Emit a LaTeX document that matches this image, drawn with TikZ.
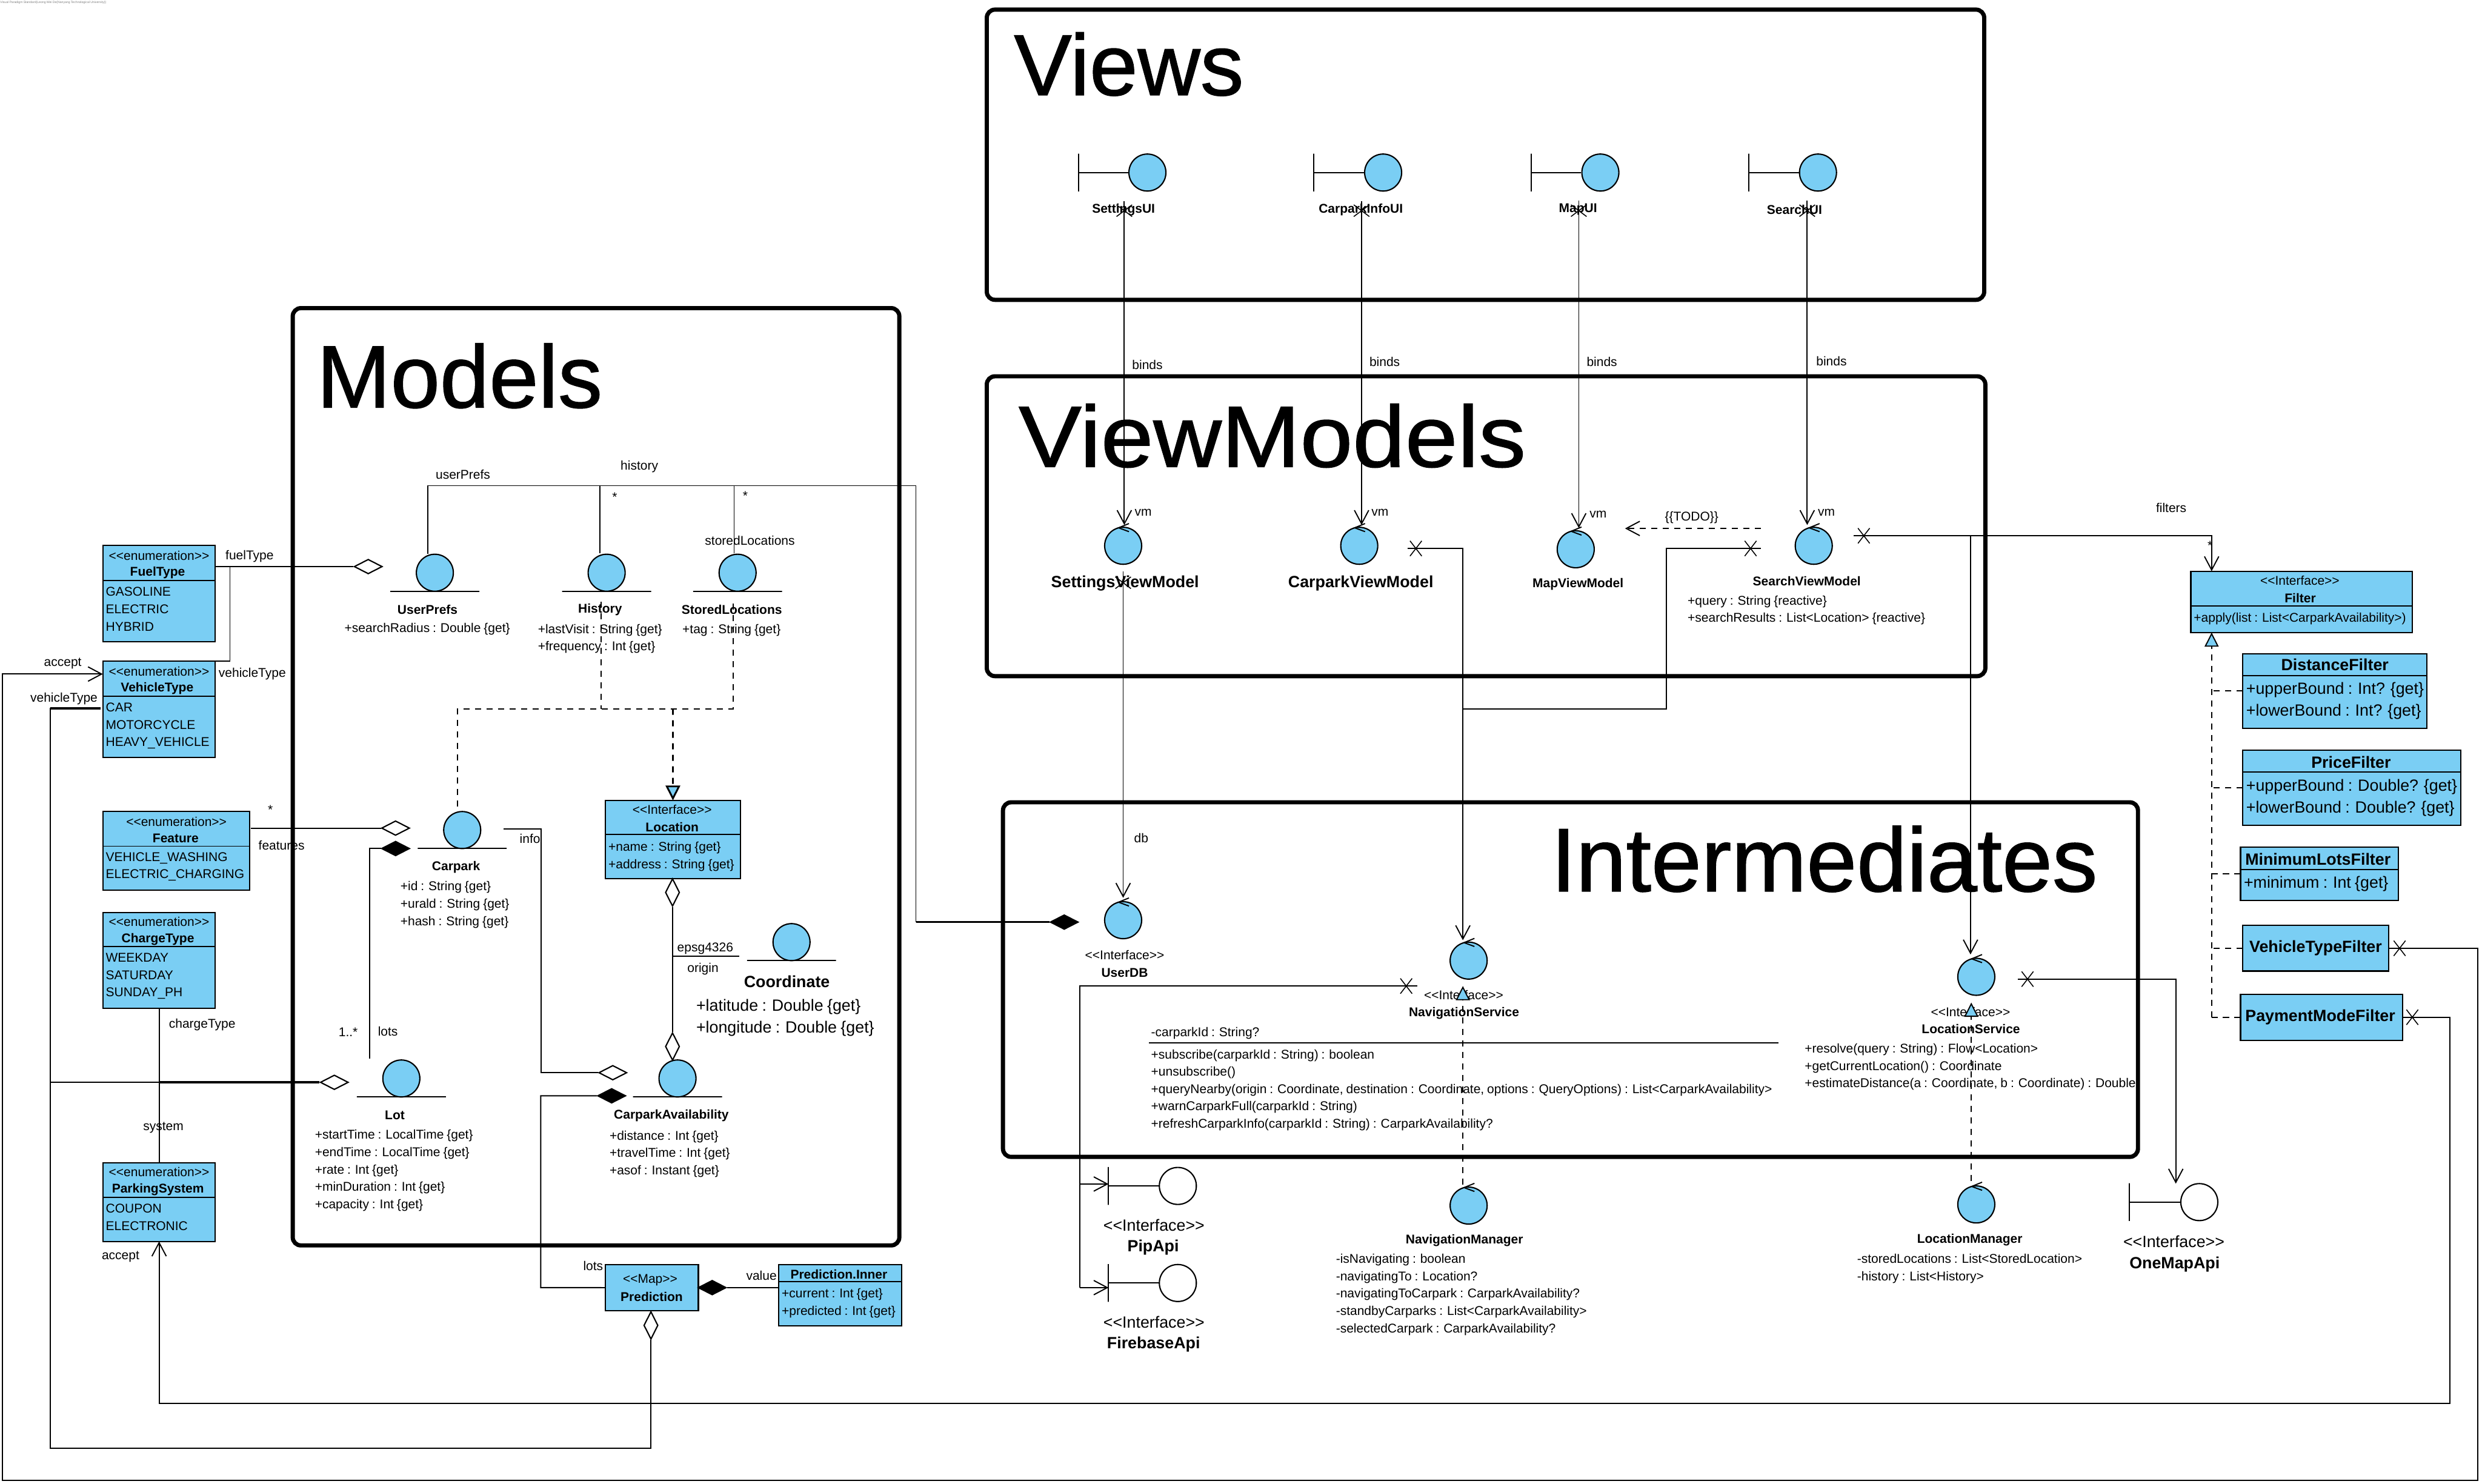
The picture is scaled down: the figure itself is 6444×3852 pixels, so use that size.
\documentclass[tikz,border=0pt]{standalone}
\usepackage{fontspec}
\setmainfont{Liberation Sans}[Ligatures=TeXOff, WordSpace=0.85]
\newfontfamily\titlefont{Liberation Sans}[Ligatures=TeXOff, FakeBold=1.0]
\usepackage{graphicx}
\usepackage{xcolor}
\usetikzlibrary{arrows.meta, shapes.geometric, shapes.misc}
\definecolor{umlblue}{RGB}{122,206,244}
\newcommand{\ctlmark}[1]{\draw[conn] ([shift={(15,-8)}]#1.north) -- ([shift={(-12,3)}]#1.north) -- ([shift={(15,13)}]#1.north);}

\begin{document}
\begin{tikzpicture}[
  x=0.01cm, y=-0.01cm,
  pkgframe/.style={
    rectangle, rounded corners=6pt, anchor=north west, draw, line width=3.1pt,
    inner sep=0pt, outer sep=0pt
  },
  pkgtitle/.style={anchor=base west, inner sep=0pt},
  classbox/.style={
    rectangle, anchor=north west, draw, fill=umlblue, line width=0.95pt,
    inner sep=0pt, outer sep=0pt
  },
  blob/.style={
    ellipse, draw, fill=umlblue, line width=0.95pt, inner sep=0pt,
    minimum width=0.96cm, minimum height=0.96cm
  },
  lolly/.style={
    ellipse, draw, fill=white, line width=0.95pt, inner sep=0pt,
    minimum width=0.96cm, minimum height=0.96cm
  },
  underbar/.style={
    rectangle, draw, line width=0.85pt, inner sep=0pt,
    minimum width=2.31cm, minimum height=0pt
  },
  sidebar/.style={
    rectangle, draw, line width=0.85pt, inner sep=0pt,
    minimum width=0pt, minimum height=0.98cm
  },
  lbl/.style={inner sep=0pt, font=\fontsize{9.39pt}{12.8pt}\selectfont},
  lblbf/.style={lbl, font=\fontsize{9.39pt}{12.8pt}\selectfont\bfseries},
  big/.style={inner sep=0pt, font=\fontsize{12pt}{16.2pt}\selectfont},
  bigbf/.style={inner sep=0pt, font=\fontsize{12pt}{16.2pt}\selectfont\bfseries},
  attr/.style={anchor=north west, align=left, inner sep=0pt, font=\fontsize{9.39pt}{12.8pt}\selectfont},
  attrbig/.style={anchor=north west, align=left, inner sep=0pt, font=\fontsize{12pt}{16.2pt}\selectfont},
  odia/.style={diamond, draw, fill=white, line width=0.95pt, inner sep=0pt, minimum width=0.73cm, minimum height=0.38cm},
  fdia/.style={diamond, draw, fill=black, line width=0.95pt, inner sep=0pt, minimum width=0.73cm, minimum height=0.38cm},
  odiav/.style={diamond, draw, fill=white, line width=0.95pt, inner sep=0pt, minimum width=0.37cm, minimum height=0.72cm},
  xmarkh/.style={cross out, draw, line width=0.7pt, inner sep=0pt, minimum width=0.28cm, minimum height=0.37cm},
  xmarkv/.style={cross out, draw, line width=0.7pt, inner sep=0pt, minimum width=0.38cm, minimum height=0.28cm},
  conn/.style={line width=0.85pt},
  heavy/.style={line width=1.6pt},
  arr/.style={-{Straight Barb[length=10pt, width=10.6pt]}, line width=0.85pt},
  dep/.style={line width=0.85pt, dash pattern=on 4.5pt off 4pt},
  depheavy/.style={line width=1.3pt, dash pattern=on 4.5pt off 4pt},
  real/.style={dep, -{Triangle[length=10.5pt, width=10.4pt, fill=umlblue]}},
  realheavy/.style={depheavy, -{Triangle[length=11pt, width=10.8pt, fill=umlblue]}},
  deparr/.style={dep, -{Straight Barb[length=10pt, width=10.6pt]}}
]
  \useasboundingbox (0,0) rectangle (6444,3852);
  \node[anchor=west, inner sep=0pt, text=gray, font=\fontsize{2.3pt}{3pt}\selectfont] (watermark) at (0,7)
    {Visual Paradigm Standard(Leong Wei De(Nanyang Technological University))};

  % Package frames
  \node[pkgframe, minimum width=25.88cm, minimum height=7.53cm] (viewsframe) at (2562,25) {};
  \node[pkgframe, minimum width=25.91cm, minimum height=7.78cm] (vmframe) at (2562,977) {};
  \node[pkgframe, minimum width=15.74cm, minimum height=24.32cm] (modelsframe) at (760,800) {};
  \node[pkgframe, minimum width=29.45cm, minimum height=9.20cm] (interframe) at (2604,2083) {};
  \node[pkgtitle, font=\fontsize{64pt}{70pt}\titlefont] (viewstitle) at (2632,247) {Views};
  \node[pkgtitle, font=\fontsize{64.3pt}{70pt}\titlefont] (vmtitle) at (2644,1212) {\scalebox{1.084}[1]{ViewModels}};
  \node[pkgtitle, font=\fontsize{65.4pt}{70pt}\titlefont] (modelstitle) at (822,1058) {Models};
  \node[pkgtitle, font=\fontsize{66.6pt}{70pt}\titlefont] (intertitle) at (4026,2314) {Intermediates};

  % Views
  \node[blob] (settingsui) at (2979,448) {};
  \node[blob] (carparkui) at (3591,448) {};
  \node[blob] (mapui) at (4155,448) {};
  \node[blob] (searchui) at (4720,448) {};
  \node[sidebar] (settingsbar) at (2800,448) {};
  \node[sidebar] (carparkbar) at (3411,448) {};
  \node[sidebar] (mapbar) at (3975,448) {};
  \node[sidebar] (searchbar) at (4540,448) {};
  \draw[conn] (settingsbar.center) -- (settingsui.west);
  \draw[conn] (carparkbar.center) -- (carparkui.west);
  \draw[conn] (mapbar.center) -- (mapui.west);
  \draw[conn] (searchbar.center) -- (searchui.west);
  \node[lblbf] (settingsuinm) at (2917,544) {SettingsUI};
  \node[lblbf] (carparkuinm) at (3533,544) {CarparkInfoUI};
  \node[lblbf] (mapuinm) at (4097,544) {MapUI};
  \node[lblbf] (searchuinm) at (4659,544) {SearchUI};

  % ViewModels
  \node[blob] (settingsvm) at (2916,1417) {};
  \node[blob] (carparkvm) at (3529,1417) {};
  \node[blob] (mapvm) at (4091,1426) {};
  \node[blob] (searchvm) at (4709,1417) {};
  \node[bigbf] (settingsvmnm) at (2921,1514) {SettingsViewModel};
  \node[bigbf] (carparkvmnm) at (3533,1514) {CarparkViewModel};
  \node[lblbf] (mapvmnm) at (4097,1517) {MapViewModel};
  \node[lblbf] (searchvmnm) at (4691,1508) {SearchViewModel};
  \node[attr] (searchvmat) at (4381,1546) {+query : String \{reactive\}\\+searchResults : List<Location> \{reactive\}};

  % Enumerations on the left
  \node[classbox, minimum width=2.92cm, minimum height=2.50cm] (fuel) at (267,1416) {};
  \draw[conn] (fuel.west |- 0,1507) -- (fuel.east |- 0,1507);
  \node[lbl] (fuelst) at (413,1442) {<<enumeration>>};
  \node[lblbf] (fuelnm) at (409,1487) {FuelType};
  \node[attr] (fuelit) at (274,1524) {GASOLINE\\ELECTRIC\\HYBRID};

  \node[classbox, minimum width=2.92cm, minimum height=2.50cm] (vehicle) at (267,1717) {};
  \draw[conn] (vehicle.west |- 0,1807) -- (vehicle.east |- 0,1807);
  \node[lbl] (vehiclest) at (413,1743) {<<enumeration>>};
  \node[lblbf] (vehiclenm) at (408,1788) {VehicleType};
  \node[attr] (vehicleit) at (274,1824) {CAR\\MOTORCYCLE\\HEAVY\_VEHICLE};

  \node[classbox, minimum width=3.81cm, minimum height=2.04cm] (feature) at (267,2107) {};
  \draw[conn] (feature.west |- 0,2197) -- (feature.east |- 0,2197);
  \node[lbl] (featurest) at (458,2133) {<<enumeration>>};
  \node[lblbf] (featurenm) at (456,2177) {Feature};
  \node[attr] (featureit) at (274,2212) {VEHICLE\_WASHING\\ELECTRIC\_CHARGING};

  \node[classbox, minimum width=2.92cm, minimum height=2.49cm] (charge) at (267,2369) {};
  \draw[conn] (charge.west |- 0,2458) -- (charge.east |- 0,2458);
  \node[lbl] (chargest) at (413,2393) {<<enumeration>>};
  \node[lblbf] (chargenm) at (410,2438) {ChargeType};
  \node[attr] (chargeit) at (274,2474) {WEEKDAY\\SATURDAY\\SUNDAY\_PH};

  \node[classbox, minimum width=2.92cm, minimum height=2.04cm] (parking) at (267,3019) {};
  \draw[conn] (parking.west |- 0,3109) -- (parking.east |- 0,3109);
  \node[lbl] (parkingst) at (413,3043) {<<enumeration>>};
  \node[lblbf] (parkingnm) at (410,3088) {ParkingSystem};
  \node[attr] (parkingit) at (274,3125) {COUPON\\ELECTRONIC};

  % Models
  \node[blob] (userprefs) at (1129,1487) {};
  \node[underbar] (userprefsbar) at (1129,1535) {};
  \node[lblbf] (userprefsnm) at (1110,1583) {UserPrefs};
  \node[attr] (userprefsat) at (894,1617) {+searchRadius : Double \{get\}};

  \node[blob] (history) at (1575,1487) {};
  \node[underbar] (historybar) at (1575,1535) {};
  \node[lblbf] (historynm) at (1558,1583) {History};
  \node[attr] (historyat) at (1396,1620) {+lastVisit : String \{get\}\\+frequency : Int \{get\}};

  \node[blob] (stored) at (1915,1487) {};
  \node[underbar] (storedbar) at (1915,1535) {};
  \node[lblbf] (storednm) at (1900,1583) {StoredLocations};
  \node[attr] (storedat) at (1771,1620) {+tag : String \{get\}};

  \node[blob] (carpark) at (1200,2155) {};
  \node[underbar] (carparkbarb) at (1200,2203) {};
  \node[lblbf] (carparknm) at (1184,2252) {Carpark};
  \node[attr] (carparkat) at (1039,2288) {+id : String \{get\}\\+urald : String \{get\}\\+hash : String \{get\}};

  \node[classbox, minimum width=3.50cm, minimum height=2.03cm] (location) at (1572,2078) {};
  \draw[conn] (location.west |- 0,2167) -- (location.east |- 0,2167);
  \node[lbl] (locationst) at (1745,2102) {<<Interface>>};
  \node[lblbf] (locationnm) at (1745,2147) {Location};
  \node[attr] (locationat) at (1579,2185) {+name : String \{get\}\\+address : String \{get\}};

  \node[blob] (coordinate) at (2055,2446) {};
  \node[underbar] (coordinatebar) at (2055,2494) {};
  \node[bigbf] (coordinatenm) at (2043,2549) {Coordinate};
  \node[attrbig] (coordinateat) at (1807,2594) {+latitude : Double \{get\}\\+longitude : Double \{get\}};

  \node[blob] (lot) at (1042,2800) {};
  \node[underbar] (lotbar) at (1042,2848) {};
  \node[lblbf] (lotnm) at (1025,2896) {Lot};
  \node[attr] (lotat) at (817,2933) {+startTime : LocalTime \{get\}\\+endTime : LocalTime \{get\}\\+rate : Int \{get\}\\+minDuration : Int \{get\}\\+capacity : Int \{get\}};

  \node[blob] (avail) at (1759,2800) {};
  \node[underbar] (availbar) at (1759,2848) {};
  \node[lblbf] (availnm) at (1743,2897) {CarparkAvailability};
  \node[attr] (availat) at (1582,2935) {+distance : Int \{get\}\\+travelTime : Int \{get\}\\+asof : Instant \{get\}};

  % Prediction below the models
  \node[classbox, minimum width=2.41cm, minimum height=1.20cm] (prediction) at (1572,3283) {};
  \node[lbl] (predictionst) at (1688,3323) {<<Map>>};
  \node[lblbf] (predictionnm) at (1692,3367) {Prediction};
  \node[classbox, minimum width=3.19cm, minimum height=1.59cm] (inner) at (2022,3283) {};
  \draw[conn] (inner.west |- 0,3328) -- (inner.east |- 0,3328);
  \node[lblbf] (innernm) at (2178,3309) {Prediction.Inner};
  \node[attr] (innerat) at (2029,3345) {+current : Int \{get\}\\+predicted : Int \{get\}};

  % Intermediates
  \node[blob] (userdb) at (2916,2389) {};
  \node[lbl] (userdbst) at (2920,2480) {<<Interface>>};
  \node[lblbf] (userdbnm) at (2920,2525) {UserDB};

  \node[blob] (navservice) at (3813,2494) {};
  \node[lbl] (navservicest) at (3800,2584) {<<Interface>>};
  \node[lblbf] (navservicenm) at (3801,2630) {NavigationService};
  \node[attr] (navserviceat) at (2988,2666) {-carparkId : String?};
  \node[attr] (navservicemt) at (2988,2724) {+subscribe(carparkId : String) : boolean\\+unsubscribe()\\+queryNearby(origin : Coordinate, destination : Coordinate, options : QueryOptions) : List<CarparkAvailability>\\+warnCarparkFull(carparkId : String)\\+refreshCarparkInfo(carparkId : String) : CarparkAvailability?};

  \node[blob] (locservice) at (5131,2536) {};
  \node[lbl] (locservicest) at (5116,2627) {<<Interface>>};
  \node[lblbf] (locservicenm) at (5117,2672) {LocationService};
  \node[attr] (locserviceat) at (4685,2709) {+resolve(query : String) : Flow<Location>\\+getCurrentLocation() : Coordinate\\+estimateDistance(a : Coordinate, b : Coordinate) : Double};
  \coordinate (navrulel) at (2983,2707);
  \coordinate (navruler) at (4617,2707);
  \draw[conn] (navrulel) -- (navruler);

  \node[blob] (navmanager) at (3813,3130) {};
  \node[lblbf] (navmanagernm) at (3802,3221) {NavigationManager};
  \node[attr] (navmanagerat) at (3468,3255) {-isNavigating : boolean\\-navigatingTo : Location?\\-navigatingToCarpark : CarparkAvailability?\\-standbyCarparks : List<CarparkAvailability>\\-selectedCarpark : CarparkAvailability?};

  \node[blob] (locmanager) at (5131,3127) {};
  \node[lblbf] (locmanagernm) at (5114,3219) {LocationManager};
  \node[attr] (locmanagerat) at (4821,3255) {-storedLocations : List<StoredLocation>\\-history : List<History>};

  % External interfaces
  \node[lolly] (pipapi) at (3058,3079) {};
  \node[sidebar] (pipbar) at (2878,3079) {};
  \draw[conn] (pipbar.center) -- (pipapi.west);
  \node[big] (pipst) at (2996,3181) {<<Interface>>};
  \node[bigbf] (pipnm) at (2994,3239) {PipApi};

  \node[lolly] (firebaseapi) at (3058,3331) {};
  \node[sidebar] (firebasebar) at (2878,3331) {};
  \draw[conn] (firebasebar.center) -- (firebaseapi.west);
  \node[big] (firebasest) at (2996,3433) {<<Interface>>};
  \node[bigbf] (firebasenm) at (2995,3491) {FirebaseApi};

  \node[lolly] (onemapapi) at (5710,3121) {};
  \node[sidebar] (onemapbar) at (5529,3121) {};
  \draw[conn] (onemapbar.center) -- (onemapapi.west);
  \node[big] (onemapst) at (5644,3223) {<<Interface>>};
  \node[bigbf] (onemapnm) at (5646,3282) {OneMapApi};

  % Filters on the right
  \node[classbox, minimum width=5.74cm, minimum height=1.59cm] (filter) at (5688,1483) {};
  \draw[conn] (filter.west |- 0,1573) -- (filter.east |- 0,1573);
  \node[lbl] (filterst) at (5971,1507) {<<Interface>>};
  \node[lblbf] (filternm) at (5972,1552) {Filter};
  \node[attr] (filterat) at (5695,1590) {+apply(list : List<CarparkAvailability>)};

  \node[classbox, minimum width=4.78cm, minimum height=1.94cm] (distance) at (5823,1697) {};
  \draw[conn] (distance.west |- 0,1754) -- (distance.east |- 0,1754);
  \node[bigbf] (distancenm) at (6062,1726) {DistanceFilter};
  \node[attrbig] (distanceat) at (5831,1771) {+upperBound : Int? \{get\}\\+lowerBound : Int? \{get\}};

  \node[classbox, minimum width=5.65cm, minimum height=1.95cm] (price) at (5823,1948) {};
  \draw[conn] (price.west |- 0,2005) -- (price.east |- 0,2005);
  \node[bigbf] (pricenm) at (6104,1979) {PriceFilter};
  \node[attrbig] (priceat) at (5831,2022) {+upperBound : Double? \{get\}\\+lowerBound : Double? \{get\}};

  \node[classbox, minimum width=4.09cm, minimum height=1.38cm] (minlots) at (5817,2200) {};
  \draw[conn] (minlots.west |- 0,2257) -- (minlots.east |- 0,2257);
  \node[bigbf] (minlotsnm) at (6018,2231) {MinimumLotsFilter};
  \node[attrbig] (minlotsat) at (5825,2275) {+minimum : Int \{get\}};

  \node[classbox, minimum width=3.79cm, minimum height=1.19cm] (vtfilter) at (5823,2402) {};
  \node[bigbf] (vtfilternm) at (6012,2461) {VehicleTypeFilter};
  \node[classbox, minimum width=4.21cm, minimum height=1.20cm] (payfilter) at (5817,2581) {};
  \node[bigbf] (payfilternm) at (6024,2641) {PaymentModeFilter};

  % Model connectors
  \coordinate (dbturn) at (2378,1261);
  \coordinate (prefup) at (1110,1438);
  \coordinate (histup) at (1557,1436);
  \coordinate (storeup) at (1906,1436);
  \node[fdia] (dbdia) at (2763,2394) {};
  \draw[conn] (prefup) |- (dbturn) -- (dbturn |- dbdia);
  \draw[conn] (histup) -- (histup |- dbturn);
  \draw[conn] (storeup) -- (storeup |- dbturn);
  \draw[heavy] (dbturn |- dbdia) -- (dbdia.west);
  \node[lbl] (prefslbl) at (1202,1232) {userPrefs};
  \node[lbl] (historylbl) at (1660,1212) {history};
  \node[lbl] (histstar) at (1596,1290) {*};
  \node[lbl] (storestar) at (1935,1287) {*};
  \node[lbl] (storedlbl) at (1947,1403) {storedLocations};

  \coordinate (hub) at (1747,1840);
  \coordinate (histdash) at (1560,1562);
  \coordinate (storedash) at (1903,1562);
  \coordinate (carparkdash) at (1188,2094);
  \draw[dep] (histdash) -- (histdash |- hub);
  \draw[dep] (carparkdash) |- (storedash |- hub) -- (storedash);
  \draw[realheavy] (hub) -- (location.north);

  \node[odia] (fueldia) at (956,1471) {};
  \coordinate (fuelout) at (559,1471);
  \coordinate (fueljog) at (597,1471);
  \draw[conn] (fuelout) -- (fueldia.west);
  \draw[conn] (fueljog) |- (vehicle.north east);
  \node[lbl] (fuellbl) at (648,1445) {fuelType};
  \node[lbl] (vehiclelbl) at (655,1749) {vehicleType};

  \node[odia] (featuredia) at (1027,2150) {};
  \coordinate (featureout) at (652,2150);
  \draw[conn] (featureout) -- (featuredia.west);
  \node[lbl] (featurestar) at (702,2103) {*};
  \node[lbl] (featurelbl) at (731,2195) {features};

  \node[fdia] (lotsdia) at (1027,2203) {};
  \coordinate (lottop) at (960,2748);
  \draw[conn] (lotsdia.west) -| (lottop);
  \node[lbl] (lotsmul) at (904,2680) {1..*};
  \node[lbl] (lotslbl) at (1007,2678) {lots};

  \node[odia] (infodia) at (1591,2785) {};
  \coordinate (infoout) at (1308,2152);
  \coordinate (infojog) at (1405,2785);
  \draw[conn] (infoout) -| (infojog) -- (infodia.west);
  \node[lbl] (infolbl) at (1376,2178) {info};

  \node[odiav] (locdia) at (1746,2317) {};
  \node[odiav] (availtopdia) at (1746,2717) {};
  \coordinate (epsgend) at (1920,2483);
  \draw[conn] (locdia.south) -- (availtopdia.north);
  \draw[conn] (locdia |- epsgend) -- (epsgend);
  \node[lbl] (epsglbl) at (1831,2462) {epsg4326};
  \node[lbl] (originlbl) at (1825,2516) {origin};

  \node[fdia] (availdia) at (1588,2845) {};
  \coordinate (predjog) at (1404,3343);
  \draw[conn] (availdia.west) -| (predjog) -- (prediction.west);
  \node[lbl] (predlotslbl) at (1540,3287) {lots};

  \node[fdia] (innerdia) at (1849,3343) {};
  \draw[conn] (innerdia.east) -- (inner.west |- innerdia);
  \node[lbl] (valuelbl) at (1977,3311) {value};

  % Lot and the long way round
  \node[odia] (lotdia) at (868,2810) {};
  \node[odiav] (preddia) at (1690,3441) {};
  \coordinate (vtcorner) at (130,3760);
  \coordinate (vtstub) at (261,1839);
  \draw[conn] (preddia.south) |- (vtcorner) |- (vtstub);
  \draw[heavy] (vtcorner |- vtstub) -- (vtstub);
  \node[lbl] (vtstublbl) at (166,1814) {vehicleType};
  \draw[conn] (vtcorner |- lotdia) -- (charge.south |- lotdia);
  \draw[heavy] (charge.south |- lotdia) -- (lotdia.west);
  \draw[conn] (charge.south) -- (parking.north);
  \node[lbl] (chargelbl) at (525,2660) {chargeType};
  \node[lbl] (systemlbl) at (424,2927) {system};

  \coordinate (vtloopr) at (6433,3844);
  \coordinate (vtloopl) at (7,1750);
  \node[xmarkh] (vtx) at (6230,2462) {};
  \draw[arr] (vtfilter.east) -| (vtloopr) -| (vtloopl) -- (vehicle.west |- vtloopl);
  \node[lbl] (acceptup) at (163,1722) {accept};

  \coordinate (payloop) at (6360,3644);
  \node[xmarkh] (payx) at (6263,2641) {};
  \draw[arr] (payfilter.east) -| (payloop) -| (parking.south);
  \node[lbl] (acceptdn) at (313,3263) {accept};

  % binds from the views
  \node[xmarkv] (setx) at (2919,547) {};
  \node[xmarkv] (carx) at (3535,547) {};
  \node[xmarkv] (mapx) at (4099,547) {};
  \node[xmarkv] (searchx) at (4692,547) {};
  \coordinate (setsrc) at (2919,523);
  \coordinate (carsrc) at (3535,523);
  \coordinate (mapsrc) at (4099,521);
  \coordinate (searchsrc) at (4692,521);
  \coordinate (settip) at (2919,1363);
  \coordinate (cartip) at (3535,1363);
  \coordinate (maptip) at (4099,1371);
  \coordinate (searchtip) at (4692,1363);
  \draw[arr] (setsrc) -- (settip);
  \draw[arr] (carsrc) -- (cartip);
  \draw[arr] (mapsrc) -- (maptip);
  \draw[arr] (searchsrc) -- (searchtip);
  \node[lbl] (setbinds) at (2979,947) {binds};
  \node[lbl] (carbinds) at (3595,940) {binds};
  \node[lbl] (mapbinds) at (4159,940) {binds};
  \node[lbl] (searchbinds) at (4755,938) {binds};
  \node[lbl] (setvmlbl) at (2968,1330) {vm};
  \node[lbl] (carvmlbl) at (3583,1330) {vm};
  \node[lbl] (mapvmlbl) at (4149,1336) {vm};
  \node[lbl] (searchvmlbl) at (4742,1330) {vm};

  % ViewModel connectors
  \coordinate (todostart) at (4572,1372);
  \coordinate (todotip) at (4219,1372);
  \draw[deparr] (todostart) -- (todotip);
  \node[lbl] (todolbl) at (4392,1344) {\{\{TODO\}\}};

  \node[xmarkh] (carvmx) at (3676,1424) {};
  \node[xmarkh] (searchvmx) at (4545,1424) {};
  \coordinate (carvmout) at (3654,1424);
  \coordinate (searchvmout) at (4572,1424);
  \coordinate (navjog) at (4327,1840);
  \coordinate (navtip) at (3798,2441);
  \draw[arr] (carvmout) -| (navtip);
  \draw[conn] (searchvmout) -| (navjog) -- (navjog -| navtip);

  \node[xmarkv] (setvmx) at (2916,1513) {};
  \coordinate (setvmout) at (2916,1483);
  \coordinate (dbtip) at (2916,2331);
  \draw[arr] (setvmout) -- (dbtip);
  \node[lbl] (dblbl) at (2963,2176) {db};

  \node[xmarkh] (searchoutx) at (4839,1391) {};
  \coordinate (searchout) at (4813,1391);
  \coordinate (filterjog) at (5742,1391);
  \coordinate (locjog) at (5116,1391);
  \coordinate (loctip) at (5116,2478);
  \draw[arr] (searchout) -- (filterjog) -- (filterjog |- filter.north);
  \draw[arr] (locjog) -- (loctip);
  \node[lbl] (filterslbl) at (5637,1318) {filters};
  \node[lbl] (filterstar) at (5738,1417) {*};

  % Services to their users and managers
  \node[xmarkh] (navx) at (3651,2560) {};
  \coordinate (navout) at (3679,2560);
  \coordinate (apijog) at (2803,2560);
  \coordinate (piptip) at (2878,3074);
  \coordinate (firetip) at (2878,3343);
  \draw[conn] (navout) -- (apijog) -- (apijog |- firetip);
  \draw[arr] (apijog |- piptip) -- (piptip);
  \draw[arr] (apijog |- firetip) -- (firetip);

  \node[xmarkh] (locx) at (5264,2542) {};
  \coordinate (locout) at (5239,2542);
  \coordinate (onemaptip) at (5649,3073);
  \draw[arr] (locout) -| (onemaptip);

  \coordinate (navdash) at (3798,3075);
  \coordinate (navtri) at (3798,2560);
  \coordinate (locdash) at (5118,3067);
  \coordinate (loctri) at (5118,2603);
  \draw[real] (navdash) -- (navtri);
  \draw[real] (locdash) -- (loctri);

  % Filter realisations
  \coordinate (filterspine) at (5742,2641);
  \draw[real] (filterspine) -- (filterspine |- filter.south);
  \draw[dep] (distance.west) -- (distance.west -| filterspine);
  \draw[dep] (price.west) -- (price.west -| filterspine);
  \draw[dep] (minlots.west) -- (minlots.west -| filterspine);
  \draw[dep] (vtfilter.west) -- (vtfilter.west -| filterspine);
  \draw[dep] (payfilter.west) -- (payfilter.west -| filterspine);

  % Control marks on the ellipses
  \ctlmark{settingsvm}
  \ctlmark{carparkvm}
  \ctlmark{mapvm}
  \ctlmark{searchvm}
  \ctlmark{userdb}
  \ctlmark{navservice}
  \ctlmark{locservice}
  \ctlmark{navmanager}
  \ctlmark{locmanager}
\end{tikzpicture}
\end{document}
